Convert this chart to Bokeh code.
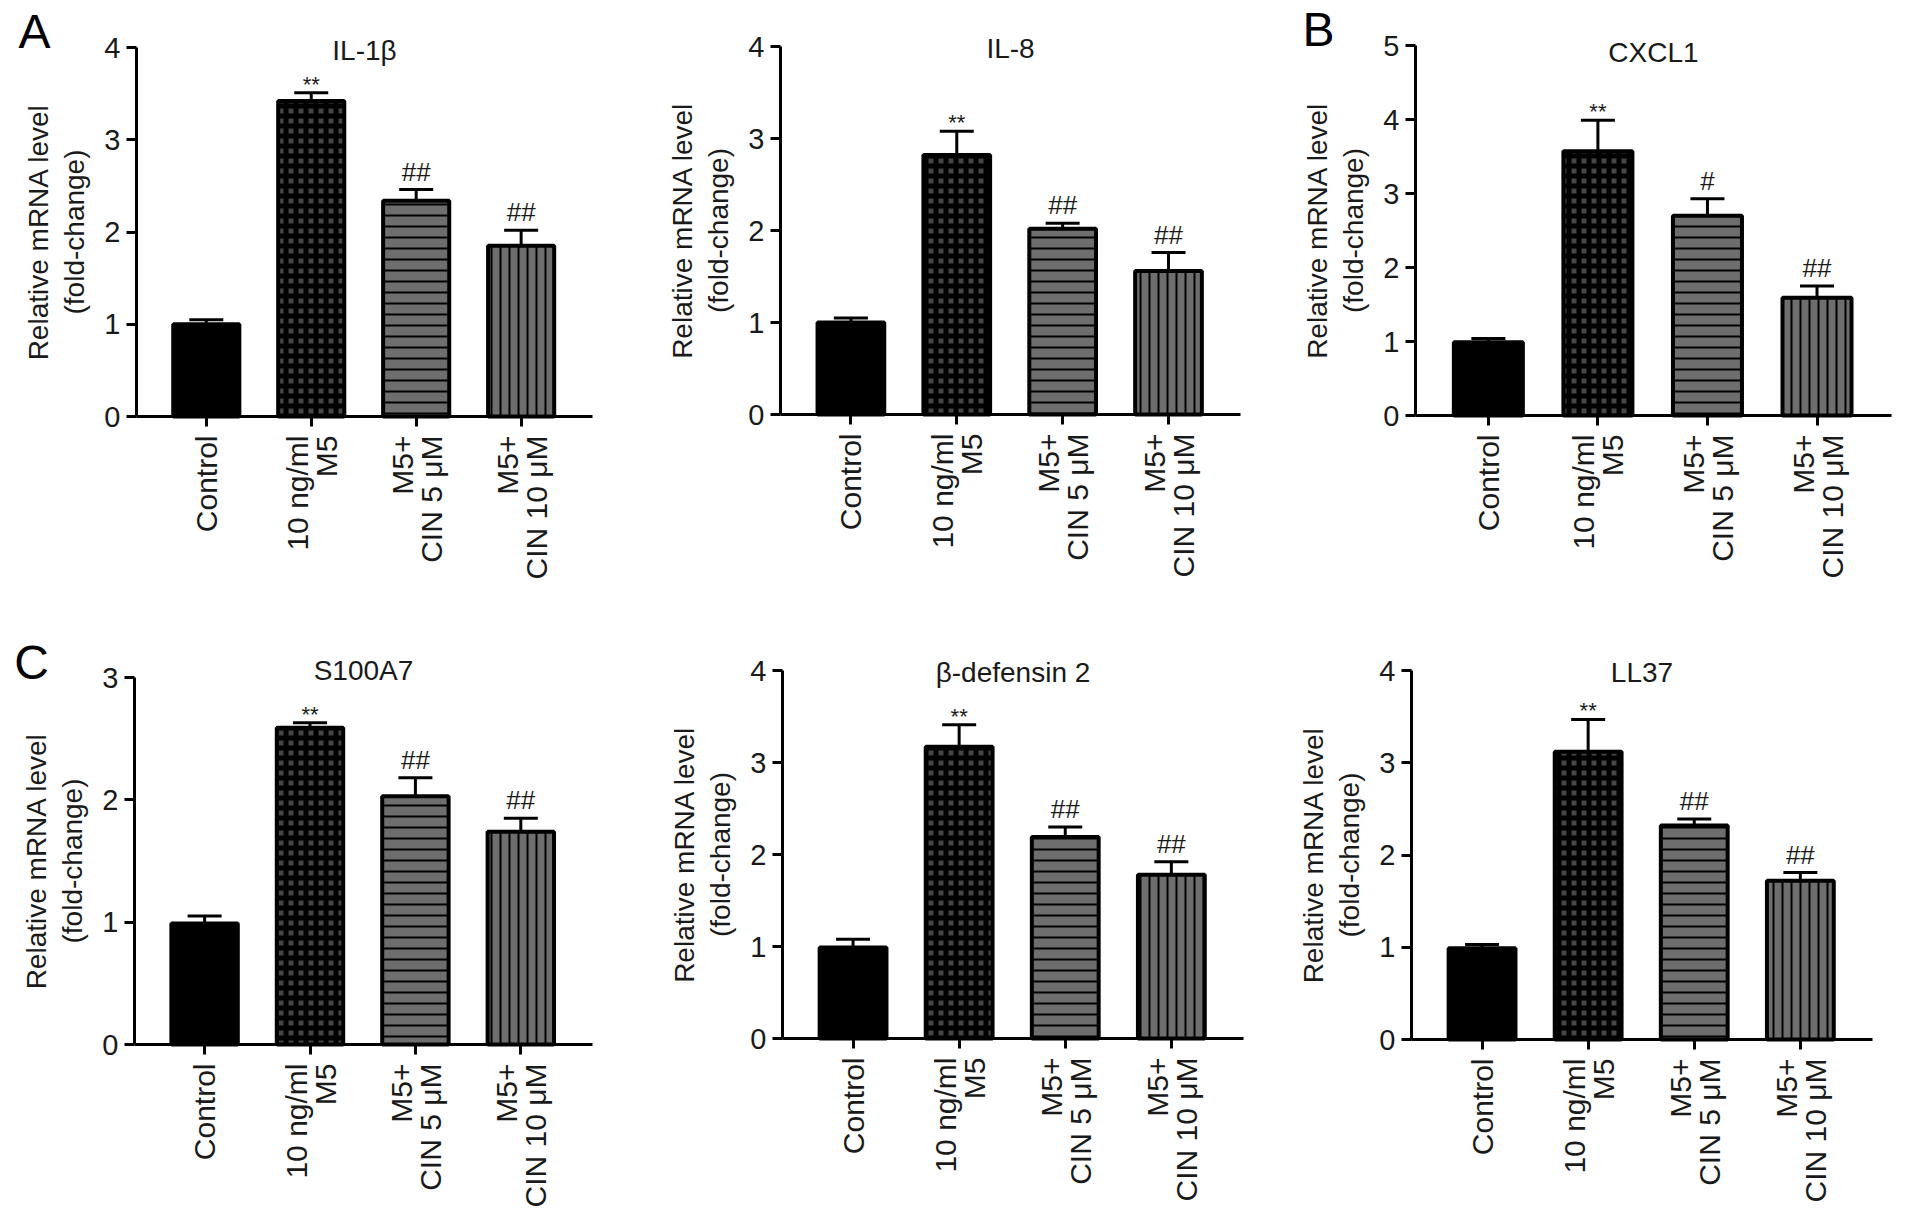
import math
from bokeh.plotting import figure
from bokeh.models import (Range1d, FixedTicker, ColumnDataSource, LabelSet, Label,
                          Whisker, TeeHead)
from bokeh.core.properties import value
from bokeh.layouts import row, column
from bokeh.embed import file_html
from bokeh.resources import INLINE

# ---------------- data ----------------
group_pos = [0, 1, 2, 3]
group_line1 = ["Control", "10 ng/ml", "M5+", "M5+"]
group_line2 = ["", "M5", "CIN 5 μM", "CIN 10 μM"]

titles = ["IL-1β", "IL-8", "CXCL1", "S100A7", "β-defensin 2", "LL37"]
panel_letters = ["A", "", "B", "C", "", ""]
y_max = [4, 4, 5, 3, 4, 4]

il1b_mean = [1.00, 3.42, 2.34, 1.85]
il1b_err = [0.05, 0.09, 0.12, 0.17]
il1b_sig = ["", "**", "##", "##"]

il8_mean = [1.00, 2.82, 2.02, 1.56]
il8_err = [0.05, 0.26, 0.06, 0.20]
il8_sig = ["", "**", "##", "##"]

cxcl1_mean = [0.99, 3.57, 2.70, 1.59]
cxcl1_err = [0.05, 0.42, 0.23, 0.16]
cxcl1_sig = ["", "**", "#", "##"]

s100a7_mean = [0.99, 2.59, 2.03, 1.74]
s100a7_err = [0.06, 0.04, 0.15, 0.11]
s100a7_sig = ["", "**", "##", "##"]

bdef2_mean = [0.99, 3.17, 2.19, 1.78]
bdef2_err = [0.09, 0.24, 0.11, 0.14]
bdef2_sig = ["", "**", "##", "##"]

ll37_mean = [0.99, 3.12, 2.32, 1.72]
ll37_err = [0.04, 0.35, 0.07, 0.09]
ll37_sig = ["", "**", "##", "##"]

means = [il1b_mean, il8_mean, cxcl1_mean, s100a7_mean, bdef2_mean, ll37_mean]
errs = [il1b_err, il8_err, cxcl1_err, s100a7_err, bdef2_err, ll37_err]
sigs = [il1b_sig, il8_sig, cxcl1_sig, s100a7_sig, bdef2_sig, ll37_sig]

# ---------------- styles / layout ----------------
FONT = "Liberation Sans"
TXT = "#1a1a1a"
XS, XE = -0.665, 3.68          # extent of the drawn x axis (data units)
BAR_W = 0.63
bar_fill = ["#000000", "#464646", "#6e6e6e", "#6e6e6e"]
bar_hatch = [" ", "cross", "horizontal_line", "vertical_line"]
bar_hscale = [10, 10, 11, 9]
bar_hweight = [1, 5, 2, 2]

# figure width/height and where the axes box sits inside it (px from each edge)
cfgs = [
    dict(w=640, h=612, l=136, r=48, t=47, b=196, tdy=-3, ldx=-102, ldy=16),
    dict(w=633, h=612, l=140, r=33, t=46, b=198, tdy=-2, ldx=-100, ldy=16),
    dict(w=639, h=612, l=142, r=21, t=45, b=197, tdy=-7, ldx=-97, ldy=16),
    dict(w=640, h=608, l=134, r=48, t=65, b=176, tdy=7, ldx=-103, ldy=15),
    dict(w=633, h=608, l=142, r=30, t=58, b=182, tdy=-2, ldx=-100, ldy=15),
    dict(w=639, h=608, l=138, r=40, t=58, b=181, tdy=-2, ldx=-100, ldy=15),
]


def make_panel(i):
    c = cfgs[i]
    ym = y_max[i]
    pxx = (c["w"] - c["l"] - c["r"]) / (XE - XS)
    pxy = (c["h"] - c["t"] - c["b"]) / ym
    xr = Range1d(XS - c["l"] / pxx, XE + c["r"] / pxx)
    yr = Range1d(-c["b"] / pxy, ym + c["t"] / pxy)
    p = figure(width=c["w"], height=c["h"], x_range=xr, y_range=yr,
               output_backend="svg", toolbar_location=None, title=None,
               min_border_left=0, min_border_right=0,
               min_border_top=0, min_border_bottom=0)
    p.min_border = 0
    p.outline_line_color = None
    p.xgrid.visible = False
    p.ygrid.visible = False
    p.background_fill_color = "white"
    p.border_fill_color = "white"

    for ax in (p.xaxis[0], p.yaxis[0]):
        ax.axis_line_width = 3
        ax.axis_line_color = "black"
        ax.major_tick_line_width = 3
        ax.major_tick_line_color = "black"
        ax.major_tick_out = 10
        ax.major_tick_in = 0
        ax.minor_tick_line_color = None
    p.yaxis.fixed_location = XS
    p.yaxis.bounds = (0, ym)
    p.xaxis.fixed_location = 0
    p.xaxis.bounds = (XS, XE)
    p.yaxis.ticker = FixedTicker(ticks=list(range(ym + 1)))
    p.yaxis.major_label_text_font = FONT
    p.yaxis.major_label_text_font_size = "29px"
    p.yaxis.major_label_text_color = TXT
    p.yaxis.major_label_standoff = 6
    p.xaxis.ticker = FixedTicker(ticks=group_pos)
    p.xaxis.major_label_overrides = {g: "" for g in group_pos}

    mean, err, sig = means[i], errs[i], sigs[i]
    for g in group_pos:
        p.vbar(x=[g], top=[mean[g]], bottom=0, width=BAR_W,
               fill_color=bar_fill[g], line_color="black", line_width=4,
               hatch_pattern=bar_hatch[g], hatch_color="black",
               hatch_scale=bar_hscale[g], hatch_weight=bar_hweight[g])

    upper = [m + e for m, e in zip(mean, err)]
    src = ColumnDataSource(dict(x=group_pos, top=mean, upper=upper))
    p.add_layout(Whisker(source=src, base="x", lower="top", upper="upper",
                         dimension="height", line_width=3, line_color="black",
                         lower_head=None,
                         upper_head=TeeHead(size=34, line_width=3, line_color="black")))

    # significance marks
    star_src = ColumnDataSource(dict(x=group_pos, y=upper,
                                     t=[s if s.startswith("*") else "" for s in sig]))
    hash_src = ColumnDataSource(dict(x=group_pos, y=upper,
                                     t=[s if s.startswith("#") else "" for s in sig]))
    p.add_layout(LabelSet(source=star_src, x="x", y="y", text="t", y_offset=1,
                          text_align="center", text_baseline="alphabetic",
                          text_font=value(FONT), text_font_size=value("22px"),
                          text_color=TXT))
    p.add_layout(LabelSet(source=hash_src, x="x", y="y", text="t", y_offset=9,
                          text_align="center", text_baseline="alphabetic",
                          text_font=value(FONT), text_font_size=value("26px"),
                          text_color=TXT))

    # x category labels (rotated, two lines)
    dx1 = [0 if l2 == "" else -14 for l2 in group_line2]
    lab_src = ColumnDataSource(dict(x=group_pos, y=[0] * 4, l1=group_line1,
                                    l2=group_line2, dx1=dx1, dx2=[15] * 4))
    for col, dxcol in (("l1", "dx1"), ("l2", "dx2")):
        p.add_layout(LabelSet(source=lab_src, x="x", y="y", text=col,
                              x_offset=dxcol, y_offset=-19, angle=math.pi / 2,
                              text_align="right", text_baseline="middle",
                              text_font=value(FONT), text_font_size=value("30px"),
                              text_color=TXT))

    # y axis label (two lines)
    for txt, dx in (("Relative mRNA level", -98), ("(fold-change)", -62)):
        p.add_layout(Label(x=XS, y=ym / 2, x_offset=dx, text=txt, angle=math.pi / 2,
                           text_align="center", text_baseline="middle",
                           text_font=FONT, text_font_size="28px", text_color=TXT))

    # title
    p.add_layout(Label(x=(XS + XE) / 2, y=ym, y_offset=c["tdy"], text=titles[i],
                       text_align="center", text_baseline="middle",
                       text_font=FONT, text_font_size="28px", text_color=TXT))

    if panel_letters[i]:
        p.add_layout(Label(x=XS, y=ym, x_offset=c["ldx"], y_offset=c["ldy"],
                           text=panel_letters[i], text_align="center",
                           text_baseline="middle", text_font=FONT,
                           text_font_size="48px", text_color="black"))
    return p


panels = [make_panel(i) for i in range(6)]
layout = column(row(panels[0], panels[1], panels[2]),
                row(panels[3], panels[4], panels[5]))

open("out.html", "w").write(file_html(layout, INLINE))
